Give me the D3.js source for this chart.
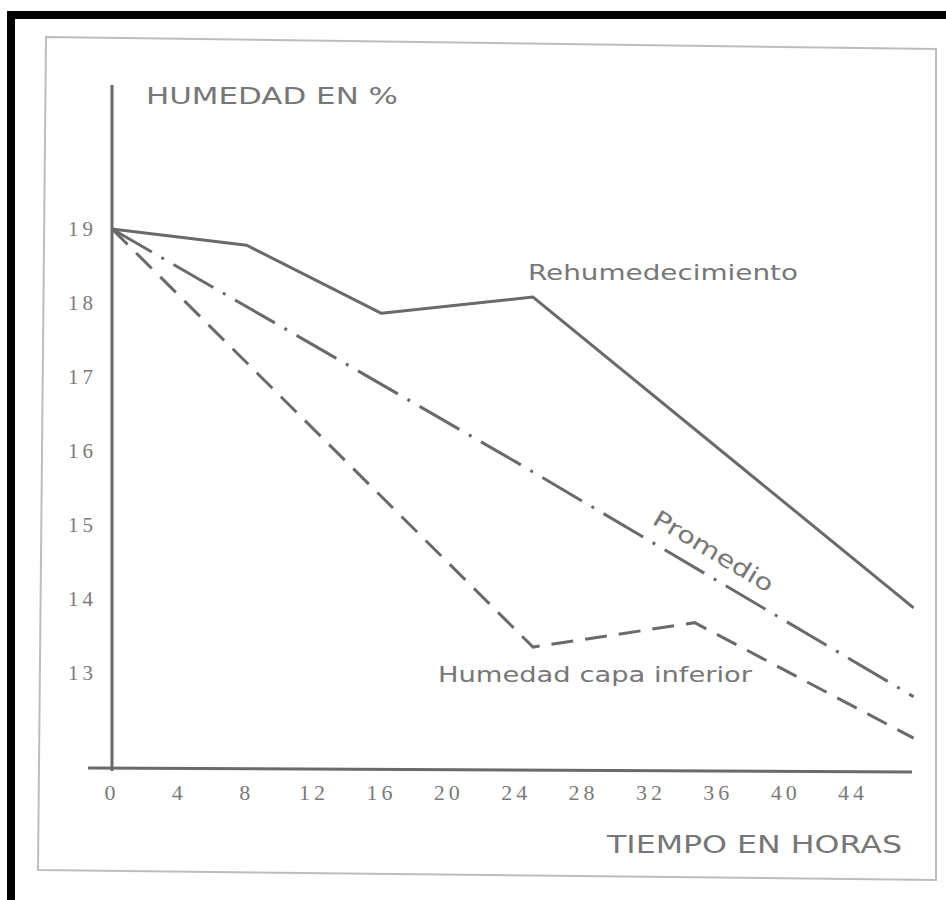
<!DOCTYPE html>
<html>
<head>
<meta charset="utf-8">
<script src="https://cdn.jsdelivr.net/npm/d3@7"></script>
<style>
  body { margin: 0; background: #fff; }
  svg { display: block; }
</style>
</head>
<body>
<svg id="chart"></svg>
<script>
// datos
const xTicks = [0, 4, 8, 12, 16, 20, 24, 28, 32, 36, 40, 44];
const yTicks = [13, 14, 15, 16, 17, 18, 19];

const rehumHoras = [0, 8, 16, 25, 47.6];
const rehumValores = [19, 18.78, 17.86, 18.08, 13.88];

const promedioHoras = [0, 24, 47.6];
const promedioValores = [19, 15.85, 12.68];

const capaHoras = [0, 25, 34.6, 47.6];
const capaValores = [19, 13.35, 13.68, 12.12];

const W = 946, H = 900;
const ink = "#6a6a6a";

const svg = d3.select("#chart")
  .attr("width", W)
  .attr("height", H);

svg.append("rect")
  .attr("width", W)
  .attr("height", H)
  .attr("fill", "#fff");

// marco negro (borde de la pagina escaneada)
svg.append("rect").attr("x", 7).attr("y", 11).attr("width", W - 7).attr("height", 8).attr("fill", "#000");
svg.append("rect").attr("x", 7).attr("y", 11).attr("width", 8).attr("height", H - 11).attr("fill", "#000");

// recuadro gris del grafico
svg.append("path")
  .attr("d", "M46,37 L936,49 L936,880 L38,870 Z")
  .attr("fill", "none")
  .attr("stroke", "#bdbdbd")
  .attr("stroke-width", 2);

// escalas
const x = d3.scaleLinear().domain([0, 44]).range([112, 853]);
const y = d3.scaleLinear().domain([13, 19]).range([673, 229]);

// ejes
svg.append("line")
  .attr("x1", x(0)).attr("x2", x(0))
  .attr("y1", 85).attr("y2", 771)
  .attr("stroke", ink).attr("stroke-width", 3);

svg.append("line")
  .attr("x1", 88).attr("x2", 912)
  .attr("y1", 768).attr("y2", 772)
  .attr("stroke", ink).attr("stroke-width", 3);

// etiquetas de los ejes
svg.append("g")
  .selectAll("text")
  .data(yTicks)
  .enter()
  .append("text")
  .attr("x", 97)
  .attr("y", d => y(d) + 7)
  .attr("text-anchor", "end")
  .style("font-family", "'Liberation Serif', serif")
  .style("font-size", "21px")
  .style("letter-spacing", "4px")
  .style("fill", "#7a7a7a")
  .text(d => d);

svg.append("g")
  .selectAll("text")
  .data(xTicks)
  .enter()
  .append("text")
  .attr("x", d => x(d))
  .attr("y", 800)
  .attr("text-anchor", "middle")
  .style("font-family", "'Liberation Serif', serif")
  .style("font-size", "22px")
  .style("letter-spacing", "4px")
  .style("fill", "#7a7a7a")
  .text(d => d);

const label = (txt, px, py, size, len) => svg.append("text")
  .attr("x", px)
  .attr("y", py)
  .attr("textLength", len)
  .attr("lengthAdjust", "spacingAndGlyphs")
  .style("font-family", "'DejaVu Sans', sans-serif")
  .style("font-size", size + "px")
  .style("fill", "#777")
  .text(txt);

label("HUMEDAD EN %", 146, 104, 23, 252);
label("TIEMPO EN HORAS", 607, 853, 24, 295);
label("Rehumedecimiento", 528, 280, 22, 270);
label("Humedad capa inferior", 438, 682, 22, 314);
label("Promedio", 0, 0, 23, 136)
  .attr("transform", "translate(651,523) rotate(31)");

// series
const linea = (hs, vs) => d3.line()
  .x((d, i) => x(hs[i]))
  .y(d => y(d))(vs);

svg.append("path")
  .attr("d", linea(rehumHoras, rehumValores))
  .attr("fill", "none")
  .attr("stroke", ink)
  .attr("stroke-width", 3)
  .attr("stroke-linejoin", "round");

svg.append("path")
  .attr("d", linea(promedioHoras, promedioValores))
  .attr("fill", "none")
  .attr("stroke", ink)
  .attr("stroke-width", 3)
  .attr("stroke-dasharray", "46,11,3,11");

svg.append("path")
  .attr("d", linea(capaHoras, capaValores))
  .attr("fill", "none")
  .attr("stroke", ink)
  .attr("stroke-width", 3)
  .attr("stroke-dasharray", "22,12");
</script>
</body>
</html>
